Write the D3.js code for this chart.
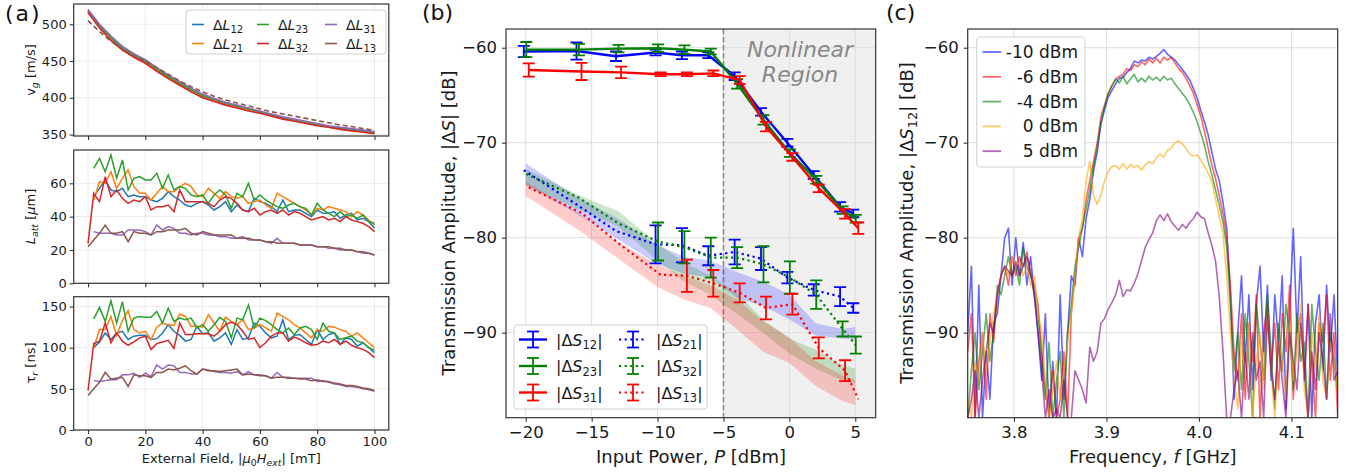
<!DOCTYPE html>
<html>
<head>
<meta charset="utf-8">
<script src="https://cdn.jsdelivr.net/npm/d3@7"></script>
<style>
	body { margin: 0; background: #fff; }
	text { font-family: 'DejaVu Sans', sans-serif; }
</style>
</head>
<body>
<svg id="fig"></svg>
<script>
// ---------------- panel (a) data ----------------
const fieldVg = [0, 4, 8, 12, 16, 20, 24, 28, 32, 36, 40, 44, 48, 52, 56, 60, 64, 68, 72, 76, 80, 84, 88, 92, 96, 100]
const vg12 = [518, 497, 480, 467, 457, 449, 438, 428, 419, 410, 402, 397, 392, 388, 384, 381, 377, 373, 370, 367, 364, 361, 359, 357, 355, 353]
const vg21 = [517, 496, 479, 466, 456, 448, 437, 427, 418, 409, 401, 396, 391, 387, 383, 380, 376, 372, 369, 366, 363, 360, 358, 356, 354, 352]
const vg23 = [519, 499, 482, 468, 458, 450, 439, 429, 420, 411, 403, 398, 393, 389, 385, 381, 377, 373, 370, 367, 364, 361, 359, 357, 355, 353]
const vg32 = [516, 495, 478, 465, 455, 447, 436, 426, 417, 408, 400, 395, 390, 386, 382, 379, 375, 371, 368, 365, 362, 360, 357, 355, 353, 351]
const vg31 = [520, 500, 484, 470, 460, 452, 441, 431, 422, 413, 405, 399, 394, 390, 386, 382, 378, 374, 371, 368, 365, 362, 360, 358, 356, 354]
const vg13 = [505, 490, 477, 466, 457, 450, 441, 432, 423, 415, 408, 402, 397, 393, 389, 385, 381, 378, 375, 372, 369, 366, 363, 361, 358, 356]

const fieldA = d3.range(0, 101, 2)
const latt12 = [null, 52, 57, 62, 56, 55, 57, 52, 53, 52, 52, 50, 49, 51, 55, 52, 50, 47, 46, 48, 49, 47, 44, 46, 49, 43, 47, 44, 43, 51, 49, 48, 46, 43, 50, 43, 44, 44, 42, 40, 44, 42, 42, 43, 39, 41, 42, 38, 39, 37, 33]
const latt21 = [null, 50, 61, 60, 67, 57, 63, 68, 58, 54, 54, 50, 54, 58, 55, 55, 58, 60, 58, 53, 52, 57, 54, 51, 55, 52, 51, 52, 48, 49, 50, 47, 45, 54, 52, 50, 48, 46, 44, 41, 45, 44, 46, 45, 44, 43, 40, 43, 41, 38, 35]
const latt23 = [null, 69, 75, 67, 77, 63, 74, 56, 63, 64, 62, 62, 66, 57, 65, 56, 58, 57, 53, 52, 53, 48, 53, 56, 53, 45, 54, 52, 60, 50, 53, 50, 48, 46, 45, 47, 48, 46, 45, 41, 48, 44, 42, 40, 43, 40, 41, 39, 41, 37, 36]
const latt32 = [24, 54, 49, 64, 52, 56, 51, 48, 50, 49, 52, 44, 46, 46, 47, 43, 56, 49, 49, 49, 49, 48, 46, 50, 52, 51, 48, 44, 43, 45, 41, 43, 44, 42, 44, 41, 43, 42, 40, 38, 39, 40, 38, 39, 37, 40, 38, 37, 36, 34, 31]
const latt31 = [null, 31, 30, 30, 30, 29, 29, 32, 32, 32, 31, 29, 35, 32, 34, 33, 30, 30, 29, 30, 30, 29, 29, 28, 28, 27, 27, 28, 26, 26, 26, 25, 24, 27, 24, 24, 24, 23, 23, 23, 22, 22, 21, 21, 20, 20, 20, 19, 18, 18, 17]
const latt13 = [22, 26, 30, 35, 30, 30, 31, 25, 31, 30, 30, 29, 31, 31, 32, 32, 32, 33, 30, 29, 31, 30, 29, 29, 29, 29, 27, 27, 27, 26, 26, 25, 25, 24, 24, 24, 24, 23, 23, 23, 22, 22, 22, 21, 21, 20, 20, 19, 19, 18, 17]

const tau12 = [null, 100, 107, 118, 110, 118, 120, 110, 114, 115, 115, 110, 111, 118, 128, 120, 115, 108, 110, 126, 117, 118, 108, 112, 118, 104, 122, 110, 112, 130, 126, 118, 112, 114, 134, 110, 115, 116, 110, 104, 122, 110, 116, 118, 104, 112, 110, 102, 106, 100, 94]
const tau21 = [null, 100, 122, 122, 138, 115, 133, 145, 122, 118, 120, 110, 125, 130, 128, 127, 141, 138, 126, 126, 125, 140, 130, 120, 137, 132, 128, 134, 122, 124, 128, 124, 120, 142, 138, 134, 128, 124, 118, 112, 122, 120, 126, 125, 122, 120, 114, 118, 112, 106, 100]
const tau23 = [null, 135, 149, 132, 157, 130, 156, 120, 136, 138, 137, 137, 144, 130, 148, 132, 136, 134, 136, 124, 128, 120, 128, 137, 132, 112, 136, 134, 152, 124, 136, 133, 128, 122, 118, 124, 116, 124, 126, 122, 110, 130, 120, 118, 110, 112, 114, 108, 106, 100, 97]
const tau32 = [48, 105, 108, 130, 106, 118, 108, 103, 107, 112, 114, 98, 105, 107, 109, 99, 130, 116, 116, 117, 117, 117, 114, 120, 128, 131, 128, 120, 110, 112, 100, 106, 114, 118, 118, 108, 113, 110, 106, 103, 104, 108, 106, 110, 104, 108, 103, 100, 98, 94, 88]
const tau31 = [null, 60, 59, 60, 61, 61, 67, 67, 69, 64, 69, 65, 79, 74, 79, 78, 70, 70, 68, 68, 74, 73, 71, 70, 70, 69, 71, 67, 71, 67, 67, 66, 63, 70, 64, 64, 63, 63, 63, 63, 59, 60, 58, 56, 55, 53, 53, 52, 50, 49, 47]
const tau13 = [42, 50, 58, 70, 62, 63, 64, 53, 67, 66, 66, 64, 70, 70, 74, 73, 75, 78, 72, 68, 74, 72, 72, 71, 72, 73, 74, 67, 68, 67, 66, 66, 63, 64, 64, 63, 63, 62, 62, 60, 61, 59, 59, 57, 56, 54, 54, 53, 51, 50, 48]

const linkNames = ['12', '21', '23', '32', '31', '13']

// ---------------- panel (b) data ----------------
const powerB = [-20, -16, -13, -10, -8, -6, -4, -2, 0, 2, 4, 5]
const s12 = [-60.4, -60.35, -60.9, -60.5, -60.8, -60.8, -63.0, -66.75, -70.0, -73.4, -76.75, -77.45]
const s23 = [-60.2, -60.2, -60.1, -60.05, -60.2, -60.4, -63.8, -67.6, -71.1, -73.9, -77.1, -78.0]
const s31 = [-62.35, -62.5, -62.6, -62.8, -62.8, -62.7, -63.4, -68.3, -71.5, -74.8, -77.5, -79.0]
const e12 = [0.6, 0.9, 0.5, 0.3, 0.4, 0.3, 0.4, 0.4, 0.4, 0.4, 0.5, 0.4]
const e23 = [0.8, 0.6, 0.4, 0.4, 0.45, 0.3, 0.5, 0.5, 0.4, 0.4, 0.4, 0.4]
const e31 = [0.7, 0.9, 0.6, 0.2, 0.2, 0.3, 0.4, 0.5, 0.4, 0.4, 0.5, 0.6]
const s21 = [-72.9, -76.5, -79.3, -80.7, -80.8, -81.9, -81.5, -82.2, -84.2, -85.5, -86.2, -87.4]
const s32 = [-73.3, -75.8, -78.5, -80.4, -81.0, -82.1, -82.1, -82.8, -84.2, -86.0, -89.6, -91.3]
const s13 = [-74.7, -77.4, -80.8, -83.9, -84.0, -84.8, -85.8, -87.4, -87.0, -91.6, -94.0, -97.0]
const e21 = [null, null, null, 2.0, 1.8, 1.0, 1.3, 1.2, 0.6, 0.6, 1.0, 0.5]
const e32 = [null, null, null, 2.0, 1.7, 2.1, 1.1, 1.9, 1.7, 1.5, 0.8, 0.9]
const e13 = [null, null, null, null, 1.7, 1.4, 1.0, 1.2, 1.1, 1.1, 1.1, null]
// shaded bands (upper, lower)
const band21Hi = [-72.2, -75.8, -78.0, -80.8, -82.0, -82.4, -83.6, -84.6, -86.0, -89.0, -89.6, -89.4]
const band21Lo = [-74.4, -77.6, -80.2, -82.8, -83.8, -84.2, -86.3, -87.2, -88.6, -90.3, -90.6, -90.7]
const band32Hi = [-72.8, -75.5, -77.2, -80.6, -82.6, -84.0, -85.8, -88.6, -90.6, -91.8, -93.4, -93.8]
const band32Lo = [-74.5, -77.0, -78.8, -82.4, -84.6, -86.0, -88.0, -90.0, -92.2, -93.8, -95.0, -95.3]
const band13Hi = [-74.1, -77.4, -80.5, -82.8, -84.0, -85.0, -86.5, -88.8, -90.5, -93.0, -94.5, -95.0]
const band13Lo = [-75.6, -79.2, -82.2, -85.2, -86.5, -87.4, -89.6, -92.0, -93.2, -95.6, -97.2, -97.6]

// ---------------- panel (c) data ----------------
const freqC = d3.range(101).map(i => 3.75 + i * 0.004)
const powerLabels = ['-10 dBm', '-6 dBm', '-4 dBm', '0 dBm', '5 dBm']
const trM10 = [-90, -83, -99, -85, -99, -92, -97, -89, -88, -84, -80, -79, -85, -80, -84, -80.5, -85, -82, -86, -90,
	-95, -88, -99, -93, -99, -86, -97, -90, -84, -85, -80, -82, -78, -76, -73, -71, -68, -66.5, -65.2, -64.5,
	-63.8, -63.2, -63.1, -62.6, -62.2, -61.4, -61.6, -61.3, -61.4, -61.0, -61.2, -60.9, -60.6, -60.2, -60.7, -61.0, -61.3, -61.8, -62.3, -62.8,
	-63.4, -64.3, -65.3, -66.6, -67.8, -69.2, -71.0, -72.8, -74.0, -76.3, -79, -86, -97, -90, -84, -93, -86, -96, -87, -83,
	-92, -85, -95, -86, -91, -84, -98, -88, -79, -90, -82, -95, -87, -99, -89, -86, -94, -85, -92, -86, -95]
const trM6 = [-92, -88, -99, -93, -90, -97, -88, -91, -86, -84, -83, -85, -82, -84, -82, -83, -81.5, -84, -85, -87,
	-92, -96, -99, -94, -99, -97, -92, -99, -88, -84, -80, -79, -76, -74, -72, -70, -67.3, -66, -64.8, -64.0,
	-63.3, -63.0, -62.8, -62.2, -62.4, -61.8, -62.0, -61.5, -61.8, -61.2, -61.6, -61.1, -61.6, -61.0, -61.3, -61.0, -61.6, -62.2, -62.6, -63.2,
	-64.0, -64.8, -66.0, -67.2, -68.8, -70.6, -72.4, -73.8, -75.6, -77.5, -80, -85, -92, -95, -88, -97, -89, -93, -86, -99,
	-90, -87, -94, -89, -96, -88, -92, -85, -97, -90, -88, -95, -87, -93, -99, -89, -91, -86, -95, -90, -99]
const trM4 = [-99, -94, -90, -96, -92, -88, -93, -90, -85, -86, -84, -82, -84, -83, -85, -81, -83, -84, -86, -88,
	-93, -97, -91, -99, -95, -92, -99, -90, -87, -83, -81, -79, -77, -75, -72.5, -70.5, -68, -66.2, -64.8, -64.0,
	-63.3, -63.7, -63.0, -63.8, -63.3, -62.8, -63.6, -63.2, -63.6, -63.0, -63.4, -63.1, -63.5, -63.0, -63.4, -63.2, -63.8, -64.3, -64.8, -65.3,
	-66.0, -66.8, -67.8, -69.0, -70.3, -72.0, -73.4, -75.0, -76.6, -78.4, -81, -87, -94, -90, -96, -88, -93, -99, -87, -91,
	-95, -86, -92, -98, -89, -94, -87, -90, -96, -88, -93, -91, -99, -87, -92, -95, -89, -97, -90, -93, -96]
const trP0 = [-97, -99, -93, -95, -90, -94, -91, -88, -86, -84, -83, -84, -82, -83, -82.5, -84, -83, -85, -84, -88,
	-90, -95, -99, -96, -93, -97, -94, -91, -88, -84, -80, -78, -74, -72, -75.5, -76.5, -75.5, -74, -73, -72.5,
	-72.4, -72.8, -72.2, -72.8, -72.3, -72.6, -72.4, -72.9, -72.3, -72.0, -72.2, -71.6, -71.2, -71.5, -70.8, -70.6, -70.0, -69.8, -70.1, -70.6,
	-71.2, -71.4, -71.3, -71.8, -72.5, -73.2, -74.1, -76.0, -77.8, -79.6, -84, -90, -95, -98, -91, -95, -89, -99, -93, -90,
	-96, -88, -94, -99, -91, -93, -97, -89, -95, -92, -87, -96, -99, -90, -94, -88, -95, -97, -91, -93, -96]
const trP5 = [-99, -97, -94, -99, -95, -92, -89, -90, -86, -84, -83, -83.5, -84, -82.5, -84, -83, -82, -83.5, -86, -90,
	-94, -99, -96, -99, -98, -99, -95, -99, -99, -94, -95, -96, -97.4, -91.5, -93, -92, -89, -88.5, -87.5, -86.8,
	-86.0, -84.5, -86.2, -85.5, -85.6, -84.8, -83.8, -82.4, -81.0, -80.2, -79.5, -78.2, -77.6, -78.2, -77.5, -78.3, -78.8, -79.2, -78.6, -79.0,
	-78.4, -78.0, -77.3, -77.8, -78.0, -79.5, -80.8, -82.5, -86.3, -92, -99, -99, -96, -94, -99, -92, -97, -90, -95, -93,
	-99, -88, -94, -97, -91, -95, -99, -90, -93, -96, -89, -94, -99, -92, -96, -90, -93, -97, -88, -95, -94]

// ---------------- figure ----------------
const W = 1361, H = 474
const tab = ['#1f77b4', '#ff7f0e', '#2ca02c', '#d62728', '#9467bd', '#8c564b']
const spineColor = '#333'

let svg = d3.select('#fig').attr('width', W).attr('height', H)
svg.append('rect').attr('width', W).attr('height', H).attr('fill', '#fff')
let defs = svg.append('defs')

// text with italic / subscript parts: parts = [[string, style]] style: n, i, sub, isub
let rich = (sel, parts, fs) => {
	let shift = 0
	parts.forEach(([s, st]) => {
		let sub = st.indexOf('sub') >= 0
		let want = sub ? fs * 0.24 : 0
		let t = sel.append('tspan').text(s).attr('dy', want - shift)
		shift = want
		if (st === 'i' || st === 'isub') t.attr('font-style', 'italic')
		if (sub) t.attr('font-size', fs * 0.72)
	})
	return sel
}

// axes frame: grid, ticks, labels, spines
let frame = (x, y, o) => {
	let [xa, xb] = x.range()
	let [yb, ya] = y.range()
	let g = svg.append('g')
	if (o.shade) o.shade(g)
	g.append('g').selectAll('line').data(o.xt).join('line')
		.attr('x1', d => x(d)).attr('x2', d => x(d)).attr('y1', ya).attr('y2', yb)
		.attr('stroke', o.grid).attr('stroke-width', 1)
	g.append('g').selectAll('line').data(o.yt).join('line')
		.attr('y1', d => y(d)).attr('y2', d => y(d)).attr('x1', xa).attr('x2', xb)
		.attr('stroke', o.grid).attr('stroke-width', 1)

	let xAx = d3.axisBottom(x).tickValues(o.xt).tickSize(4).tickPadding(o.pad).tickFormat(o.xLabels ? o.xf : '')
	let yAx = d3.axisLeft(y).tickValues(o.yt).tickSize(4).tickPadding(o.pad).tickFormat(o.yf)
	let style = a => {
		a.select('.domain').remove()
		a.attr('font-size', o.fs).attr('font-family', "'DejaVu Sans', sans-serif")
		a.selectAll('line').attr('stroke', spineColor).attr('stroke-width', 1.1)
		a.selectAll('text').attr('fill', '#1a1a1a')
	}
	svg.append('g').attr('transform', `translate(0,${yb})`).call(xAx).call(style)
	svg.append('g').attr('transform', `translate(${xa},0)`).call(yAx).call(style)

	let id = 'clip' + Math.round(xa) + '_' + Math.round(ya)
	defs.append('clipPath').attr('id', id).append('rect')
		.attr('x', xa).attr('y', ya).attr('width', xb - xa).attr('height', yb - ya)
	let plot = svg.append('g').attr('clip-path', `url(#${id})`)
	let top = svg.append('g')
	top.append('rect').attr('x', xa).attr('y', ya).attr('width', xb - xa).attr('height', yb - ya)
		.attr('fill', 'none').attr('stroke', spineColor).attr('stroke-width', 1.2)
	return { plot, top }
}

// ================= panel (a) =================
let xA = d3.scaleLinear().domain([-5, 105]).range([73.7, 388.8])
let fsA = 13
let subA = [
	{ dom: [348, 527.6], rng: [136, 4], yt: [350, 400, 450, 500] },
	{ dom: [0, 80], rng: [283.3, 150], yt: [0, 20, 40, 60] },
	{ dom: [0, 162], rng: [430, 296.7], yt: [0, 50, 100, 150] }
]
let seriesVg = [vg12, vg21, vg23, vg32, vg31, vg13]
let seriesL = [latt12, latt21, latt23, latt32, latt31, latt13]
let seriesT = [tau12, tau21, tau23, tau32, tau31, tau13]

subA.forEach((s, k) => {
	let y = d3.scaleLinear().domain(s.dom).range(s.rng)
	let f = frame(xA, y, {
		xt: [0, 20, 40, 60, 80, 100], yt: s.yt, grid: '#ececec', pad: 3, fs: fsA,
		xLabels: k === 2, xf: d3.format('d'), yf: d3.format('d')
	})
	if (k === 0) {
		seriesVg.forEach((vals, i) => {
			f.plot.append('path')
				.datum(fieldVg.map((v, j) => [v, vals[j]]))
				.attr('fill', 'none').attr('stroke', tab[i]).attr('stroke-width', 1.6)
				.attr('stroke-dasharray', i === 5 ? '5,3' : null)
				.attr('d', d3.line().x(d => xA(d[0])).y(d => y(d[1])))
		})
	} else {
		let src = k === 1 ? seriesL : seriesT
		src.forEach((vals, i) => {
			f.plot.append('path')
				.datum(fieldA.map((v, j) => [v, vals[j]]))
				.attr('fill', 'none').attr('stroke', tab[i]).attr('stroke-width', 1.5)
				.attr('d', d3.line().defined(d => d[1] != null).x(d => xA(d[0])).y(d => y(d[1])))
		})
	}
})

// y labels of (a)
let yLabA = [
	{ cy: 70, parts: [['v', 'n'], ['g', 'isub'], [' [m/s]', 'n']] },
	{ cy: 216.5, parts: [['L', 'i'], ['att', 'isub'], [' [', 'n'], ['\u03bc', 'i'], ['m]', 'n']] },
	{ cy: 363, parts: [['\u03c4', 'n'], ['r', 'isub'], [' [ns]', 'n']] }
]
yLabA.forEach(l => {
	rich(svg.append('text').attr('transform', `translate(35,${l.cy}) rotate(-90)`)
		.attr('text-anchor', 'middle').attr('font-size', fsA).attr('fill', '#1a1a1a'), l.parts, fsA)
})
rich(svg.append('text').attr('x', xA(50)).attr('y', 463).attr('text-anchor', 'middle')
	.attr('font-size', fsA).attr('fill', '#1a1a1a'),
	[['External Field, |', 'n'], ['\u03bc', 'i'], ['0', 'sub'], ['H', 'i'], ['ext', 'isub'], ['| [mT]', 'n']], fsA)

// legend of (a)
let legA = svg.append('g')
legA.append('rect').attr('x', 186).attr('y', 10).attr('width', 200).attr('height', 44).attr('rx', 3)
	.attr('fill', '#fff').attr('fill-opacity', 0.8).attr('stroke', '#d0d0d0')
linkNames.forEach((nm, i) => {
	let col = Math.floor(i / 2), row = i % 2
	let lx = [192, 257, 325][col], ly = [24.5, 43.5][row]
	legA.append('line').attr('x1', lx).attr('x2', lx + 12).attr('y1', ly).attr('y2', ly)
		.attr('stroke', tab[i]).attr('stroke-width', 1.6)
	rich(legA.append('text').attr('x', lx + 21).attr('y', ly + 5).attr('font-size', 14).attr('fill', '#1a1a1a'),
		[['\u0394', 'n'], ['L', 'i'], [nm, 'sub']], 14)
})

// ================= panel (b) =================
let xB = d3.scaleLinear().domain([-21.5, 6.55]).range([506, 875.7])
let yB = d3.scaleLinear().domain([-98.95, -58.03]).range([417.7, 29])
let fsB = 16.5
let fB = frame(xB, yB, {
	xt: [-20, -15, -10, -5, 0, 5], yt: [-60, -70, -80, -90], grid: '#dedede', pad: 5, fs: fsB,
	xLabels: true, xf: d3.format('d'), yf: d3.format('d'),
	shade: g => g.append('rect').attr('x', xB(-5)).attr('y', 29).attr('width', 875.7 - xB(-5)).attr('height', 417.7 - 29)
		.attr('fill', '#f0f0f0')
})
fB.plot.append('line').attr('x1', xB(-5)).attr('x2', xB(-5)).attr('y1', 29).attr('y2', 417.7)
	.attr('stroke', '#8a8a8a').attr('stroke-width', 1.6).attr('stroke-dasharray', '5.5,2.5')

let colB = ['#0000ff', '#008000', '#ff0000']
let bands = [[band21Hi, band21Lo], [band32Hi, band32Lo], [band13Hi, band13Lo]]
bands.forEach(([hi, lo], i) => {
	fB.plot.append('path')
		.datum(powerB.map((p, j) => [p, hi[j], lo[j]]))
		.attr('fill', colB[i]).attr('fill-opacity', 0.2)
		.attr('d', d3.area().x(d => xB(d[0])).y0(d => yB(d[2])).y1(d => yB(d[1])))
})

let dodge = [-2, 0.5, 3]
let errSeries = (vals, errs, i, dotted) => {
	let g = fB.plot.append('g')
	let pts = powerB.map((p, j) => [xB(p) + dodge[i], vals[j], errs[j]])
	g.append('path').datum(pts)
		.attr('fill', 'none').attr('stroke', colB[i]).attr('stroke-width', dotted ? 2.2 : 2.4)
		.attr('stroke-dasharray', dotted ? '2.2,3.4' : null)
		.attr('d', d3.line().x(d => d[0]).y(d => yB(d[1])))
	pts.filter(d => d[2] != null).forEach(d => {
		let y1 = yB(d[1] + d[2]), y2 = yB(d[1] - d[2])
		g.append('line').attr('x1', d[0]).attr('x2', d[0]).attr('y1', y1).attr('y2', y2)
			.attr('stroke', colB[i]).attr('stroke-width', 1.8)
		;[y1, y2].forEach(yy => g.append('line').attr('x1', d[0] - 6).attr('x2', d[0] + 6)
			.attr('y1', yy).attr('y2', yy).attr('stroke', colB[i]).attr('stroke-width', 1.8))
	})
}
errSeries(s21, e21, 0, true)
errSeries(s32, e32, 1, true)
errSeries(s13, e13, 2, true)
errSeries(s12, e12, 0, false)
errSeries(s23, e23, 1, false)
errSeries(s31, e31, 2, false)

let nl = svg.append('text').attr('text-anchor', 'middle').attr('font-size', 22)
	.attr('font-style', 'italic').attr('fill', '#888')
nl.append('tspan').attr('x', 800).attr('y', 57).text('Nonlinear')
nl.append('tspan').attr('x', 800).attr('y', 82).text('Region')

// legend (b)
let legB = svg.append('g')
legB.append('rect').attr('x', 514).attr('y', 325).attr('width', 193).attr('height', 84).attr('rx', 3)
	.attr('fill', '#fff').attr('fill-opacity', 0.85).attr('stroke', '#d0d0d0')
let legNamesB = [['12', '21'], ['23', '32'], ['31', '13']]
legNamesB.forEach((pair, r) => {
	let ly = [339.5, 366, 392.5][r]
	pair.forEach((nm, c) => {
		let x0 = [519, 619][c], cx = x0 + 14
		legB.append('line').attr('x1', x0).attr('x2', x0 + 28).attr('y1', ly).attr('y2', ly)
			.attr('stroke', colB[r]).attr('stroke-width', c ? 2.2 : 2.4).attr('stroke-dasharray', c ? '2.2,3.4' : null)
		legB.append('line').attr('x1', cx).attr('x2', cx).attr('y1', ly - 8).attr('y2', ly + 8)
			.attr('stroke', colB[r]).attr('stroke-width', 1.8)
		;[ly - 8, ly + 8].forEach(yy => legB.append('line').attr('x1', cx - 6).attr('x2', cx + 6)
			.attr('y1', yy).attr('y2', yy).attr('stroke', colB[r]).attr('stroke-width', 1.8))
		rich(legB.append('text').attr('x', x0 + 37).attr('y', ly + 6).attr('font-size', 16).attr('fill', '#1a1a1a'),
			[['|\u0394', 'n'], ['S', 'i'], [nm, 'sub'], ['|', 'n']], 16)
	})
})

rich(svg.append('text').attr('transform', `translate(455,223) rotate(-90)`)
	.attr('text-anchor', 'middle').attr('font-size', 18).attr('fill', '#1a1a1a'),
	[['Transmission Amplitude, |\u0394', 'n'], ['S', 'i'], ['| [dB]', 'n']], 18)
rich(svg.append('text').attr('x', 691).attr('y', 463).attr('text-anchor', 'middle')
	.attr('font-size', 18).attr('fill', '#1a1a1a'),
	[['Input Power, ', 'n'], ['P', 'i'], [' [dBm]', 'n']], 18)

// ================= panel (c) =================
let xC = d3.scaleLinear().domain([3.75, 4.15]).range([967.7, 1337.7])
let yC = d3.scaleLinear().domain([-98.95, -58.03]).range([417.7, 29])
let fC = frame(xC, yC, {
	xt: [3.8, 3.9, 4.0, 4.1], yt: [-60, -70, -80, -90], grid: '#dedede', pad: 5, fs: fsB,
	xLabels: true, xf: d3.format('.1f'), yf: d3.format('d')
})
let colC = ['#0000ff', '#ff0000', '#008000', '#ffa500', '#800080']
let traces = [trM10, trM6, trM4, trP0, trP5]
traces.forEach((vals, i) => {
	fC.plot.append('path')
		.datum(freqC.map((f, j) => [f, vals[j]]))
		.attr('fill', 'none').attr('stroke', colC[i]).attr('stroke-opacity', 0.6).attr('stroke-width', 1.6)
		.attr('stroke-linejoin', 'round')
		.attr('d', d3.line().x(d => xC(d[0])).y(d => yC(d[1])))
})

let legC = svg.append('g')
legC.append('rect').attr('x', 976.7).attr('y', 37).attr('width', 108.3).attr('height', 130).attr('rx', 3)
	.attr('fill', '#fff').attr('fill-opacity', 0.85).attr('stroke', '#d0d0d0')
powerLabels.forEach((lab, i) => {
	let ly = 52 + i * 24.8
	legC.append('line').attr('x1', 982.5).attr('x2', 1001).attr('y1', ly).attr('y2', ly)
		.attr('stroke', colC[i]).attr('stroke-opacity', 0.6).attr('stroke-width', 1.8)
	legC.append('text').attr('x', 1078).attr('y', ly + 6).attr('text-anchor', 'end')
		.attr('font-size', 17).attr('fill', '#1a1a1a').text(lab)
})

rich(svg.append('text').attr('transform', `translate(913,223) rotate(-90)`)
	.attr('text-anchor', 'middle').attr('font-size', 18).attr('fill', '#1a1a1a'),
	[['Transmission Amplitude, |\u0394', 'n'], ['S', 'i'], ['12', 'sub'], ['| [dB]', 'n']], 18)
rich(svg.append('text').attr('x', 1152.7).attr('y', 463).attr('text-anchor', 'middle')
	.attr('font-size', 18).attr('fill', '#1a1a1a'),
	[['Frequency, ', 'n'], ['f', 'i'], [' [GHz]', 'n']], 18)

// panel letters
;[['(a)', 5, 21, 2], ['(b)', 422, 20, 0], ['(c)', 886, 20, 0]].forEach(([t, x, y, ls]) => {
	svg.append('text').attr('x', x).attr('y', y).attr('font-size', 22).attr('letter-spacing', ls)
		.attr('font-family', "'Liberation Serif', serif").attr('fill', '#111').text(t)
})
</script>
</body>
</html>
